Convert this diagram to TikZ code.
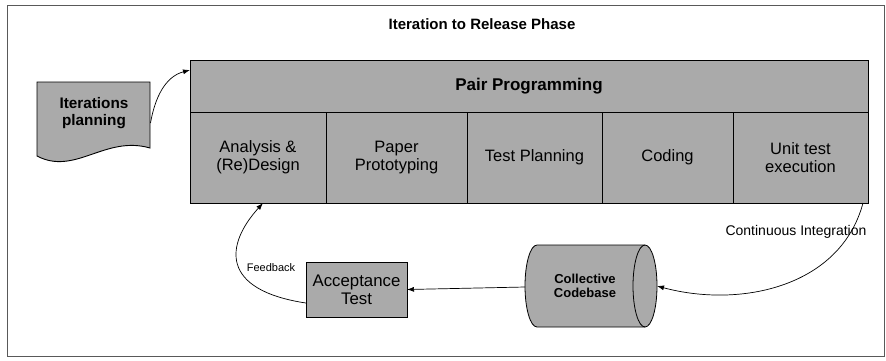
\documentclass[tikz,border=0pt]{standalone}
\usepackage{fontspec}
\setmainfont{Liberation Sans}
\usetikzlibrary{arrows.meta}
\definecolor{boxgray}{RGB}{170,170,170}
\begin{document}
\begin{tikzpicture}[x=1pt,y=-1pt,
  every node/.style={inner sep=0pt, outer sep=0pt},
  frame/.style={draw=black!65, line width=0.8pt},
  shaded/.style={draw=black, line width=0.9pt, fill=boxgray},
  cell/.style={shaded, minimum height=91pt, align=center,
    font=\fontsize{16.5}{18}\selectfont},
  arr/.style={draw=black, line width=0.7pt, -{Latex[length=7pt,width=5pt]}},
  lbl/.style={font=\fontsize{#1}{#1}\selectfont}
]
\useasboundingbox (0,0) rectangle (886,360);

% outer frame and title
\draw[frame] (7,5) rectangle (884,356);
\node[font=\bfseries\fontsize{15}{18}\selectfont] (title) at (482,24) {Iteration to Release Phase};

% iteration plan document
\node[minimum width=113pt, minimum height=66pt] (doc) at (94,115) {};
\draw[shaded] (37,82) -- (150,82) -- (150,148)
  .. controls (105,135) and (75,176) .. (37,156) -- cycle;
\node[align=center, font=\bfseries\fontsize{15.3}{17}\selectfont] (doctext) at (94,113) {Iterations\\planning};

% pair programming block
\node[shaded, minimum width=678pt, minimum height=52pt,
  font=\bfseries\fontsize{17}{18}\selectfont] (pp) at (529,86) {Pair Programming};
\node[cell, minimum width=136pt] (a1) at (258,157.5) {Analysis \&\\(Re)Design};
\node[cell, minimum width=141pt] (a2) at (396.5,157.5) {Paper\\Prototyping};
\node[cell, minimum width=135pt] (a3) at (534.5,157.5) {Test Planning};
\node[cell, minimum width=131pt] (a4) at (667.5,157.5) {Coding};
\node[cell, minimum width=135pt] (a5) at (800.5,157.5) {Unit test\\execution};

% acceptance test
\node[shaded, minimum width=101pt, minimum height=55pt, align=center,
  font=\fontsize{16.8}{18}\selectfont] (at) at (356.5,289.5) {Acceptance\\Test};

% collective codebase cylinder
\fill[boxgray] (537,245) -- (645,245)
  arc[start angle=90, end angle=-90, x radius=12pt, y radius=41pt]
  -- (537,327)
  arc[start angle=270, end angle=90, x radius=12pt, y radius=41pt] -- cycle;
\draw[line width=0.8pt] (645,245) -- (537,245)
  arc[start angle=90, end angle=270, x radius=12pt, y radius=41pt]
  -- (645,327);
\draw[line width=0.8pt] (645,286) ellipse[x radius=12pt, y radius=41pt];
\node[align=center, font=\bfseries\fontsize{13}{14}\selectfont] (cb) at (585,286) {Collective\\Codebase};
\coordinate (cbL) at (525,287);
\coordinate (cbR) at (657,286);

% connectors
\draw[arr] ([yshift=-8pt]doc.east) to[out=80, in=195] ([yshift=16pt]pp.west);
\draw[arr] ([xshift=-5pt]a5.south east) to[out=-105, in=-15] (cbR);
\draw[arr] (cbL) -- (at.east);
\draw[arr] (at.195) .. controls (220,290) and (225,245) .. ([xshift=5pt]a1.south);

% connector labels
\node[lbl=14] (ci) at (796,232) {Continuous Integration};
\node[lbl=11] (fb) at (271,268) {Feedback};
\end{tikzpicture}
\end{document}
